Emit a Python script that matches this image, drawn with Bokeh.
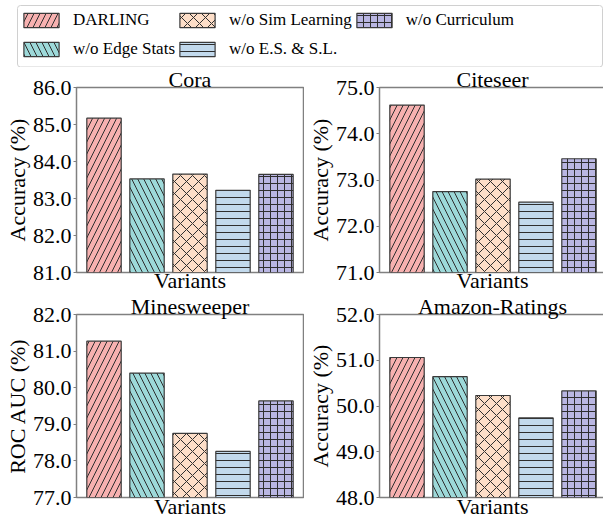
from bokeh.plotting import figure
from bokeh.models import (Range1d, SingleIntervalTicker, FixedTicker, Legend, LegendItem,
                          BoxAnnotation, NumeralTickFormatter, Title)
from bokeh.layouts import column, row
from bokeh.embed import file_html
from bokeh.resources import INLINE

# ---------------- data ----------------
variants = ["DARLING", "w/o Edge Stats", "w/o Sim Learning", "w/o E.S. & S.L.", "w/o Curriculum"]
datasets = ["Cora", "Citeseer", "Minesweeper", "Amazon-Ratings"]
cora = [85.17, 83.53, 83.66, 83.22, 83.65]
citeseer = [74.62, 72.75, 73.02, 72.52, 73.46]
minesweeper = [81.27, 80.40, 78.75, 78.26, 79.64]
amazon = [51.06, 50.64, 50.23, 49.74, 50.33]
y_labels = ["Accuracy (%)", "Accuracy (%)", "ROC AUC (%)", "Accuracy (%)"]
y_limits = [(81, 86), (71, 75), (77, 82), (48, 52)]
x_label = "Variants"

# ---------------- style ----------------
colors = ["#F7B1B0", "#9DD9D9", "#FDDEC8", "#C2D9EC", "#B9B6E2"]
hatches = ["/", "\\", "x", "-", "+"]
hatch_scales = [12, 12, 12, 7, 7]
FONT = "Liberation Serif"
EDGE = "#3a3a3a"
HATCH = "#2e2e2e"
SPINE = "#808080"

xs = list(range(len(variants)))
X0 = -0.64
PXU = 227 / 5.28


def panel(vals, ylab, lim, title, frame_w, frame_h, b_left, b_right, b_top, b_bottom,
          title_standoff, xlab_standoff):
    p = figure(frame_width=frame_w, frame_height=frame_h,
               x_range=Range1d(X0, X0 + frame_w / PXU), y_range=Range1d(*lim),
               output_backend="svg", toolbar_location=None,
               min_border_left=b_left, min_border_right=b_right,
               min_border_top=b_top, min_border_bottom=b_bottom,
               background_fill_color="white", border_fill_color="white")
    p.xgrid.visible = False
    p.ygrid.visible = False
    p.outline_line_color = SPINE
    p.outline_line_width = 1.5
    ax = p.yaxis[0]
    ax.ticker = SingleIntervalTicker(interval=1, num_minor_ticks=0)
    ax.formatter = NumeralTickFormatter(format="0.0")
    ax.axis_line_color = None
    ax.major_tick_out = 3
    ax.major_tick_in = 0
    ax.major_tick_line_color = SPINE
    ax.minor_tick_line_color = None
    ax.major_label_standoff = 2
    ax.major_label_text_font = FONT
    ax.major_label_text_font_size = "22px"
    ax.major_label_text_color = "black"
    ax.axis_label = ylab
    ax.axis_label_standoff = 0
    ax.axis_label_text_font = FONT
    ax.axis_label_text_font_size = "22px"
    ax.axis_label_text_font_style = "normal"
    ax.axis_label_text_color = "black"
    xa = p.xaxis[0]
    xa.ticker = FixedTicker(ticks=[])
    xa.axis_line_color = None
    xa.major_tick_out = 0
    xa.major_tick_in = 0
    xa.minor_tick_line_color = None
    xa.major_label_standoff = 0
    xa.axis_label = x_label
    xa.axis_label_standoff = xlab_standoff
    xa.axis_label_text_font = FONT
    xa.axis_label_text_font_size = "22px"
    xa.axis_label_text_font_style = "normal"
    xa.axis_label_text_color = "black"
    for i in range(len(variants)):
        p.vbar(x=[xs[i]], top=[vals[i]], bottom=0, width=0.8,
               fill_color=colors[i], line_color=EDGE, line_width=1.2,
               hatch_pattern=hatches[i], hatch_color=HATCH, hatch_scale=hatch_scales[i],
               hatch_weight=1)
    p.title = Title(text=title, align="center", text_font=FONT, text_font_size="22px",
                    text_font_style="normal", text_color="black", standoff=title_standoff)
    return p


f1 = panel(cora, y_labels[0], y_limits[0], datasets[0], 227, 185, 76, 1, 20, 21, -8, -5)
f2 = panel(citeseer, y_labels[1], y_limits[1], datasets[1], 226, 185, 73, 0, 20, 21, -8, -5)
f3 = panel(minesweeper, y_labels[2], y_limits[2], datasets[2], 227, 183, 76, 1, 19, 22, -9, -4)
f4 = panel(amazon, y_labels[3], y_limits[3], datasets[3], 226, 183, 73, 0, 19, 22, -9, -4)

# ---------------- legend strip ----------------
LH = 67
lf = figure(width=603, height=LH, x_range=Range1d(0, 603), y_range=Range1d(0, LH),
            output_backend="svg", toolbar_location=None, min_border=0,
            x_axis_location=None, y_axis_location=None, outline_line_color=None)
lf.xgrid.visible = False
lf.ygrid.visible = False
lf.add_layout(BoxAnnotation(left=17, right=602, bottom=0.5, top=LH - 5, fill_color="white",
                            fill_alpha=1, line_color="#d0d0d0", line_alpha=1, line_width=1,
                            border_radius=3))
items = []
for i, v in enumerate(variants):
    r = lf.vbar(x=[xs[i]], top=[cora[i]], width=0.8, fill_color=colors[i], line_color=EDGE,
                line_width=1.2, hatch_pattern=hatches[i], hatch_color=HATCH,
                hatch_scale=hatch_scales[i], hatch_weight=1, visible=False)
    items.append(LegendItem(label=v, renderers=[r]))
leg = Legend(items=items, location=(19, 4), ncols=3, orientation="vertical",
             glyph_width=44, glyph_height=18, label_standoff=10, label_height=29,
             padding=0, spacing=0, margin=0, border_line_color=None,
             background_fill_alpha=0, inactive_fill_alpha=0)
leg.label_text_font = "'Liberation Serif', serif"
leg.label_text_font_style = "normal"
leg.label_text_font_size = "17px"
leg.label_text_color = "black"
lf.add_layout(leg)

layout = column(lf, row(f1, f2, spacing=0), row(f3, f4, spacing=0), spacing=0)
open("out.html", "w").write(file_html(layout, INLINE))
